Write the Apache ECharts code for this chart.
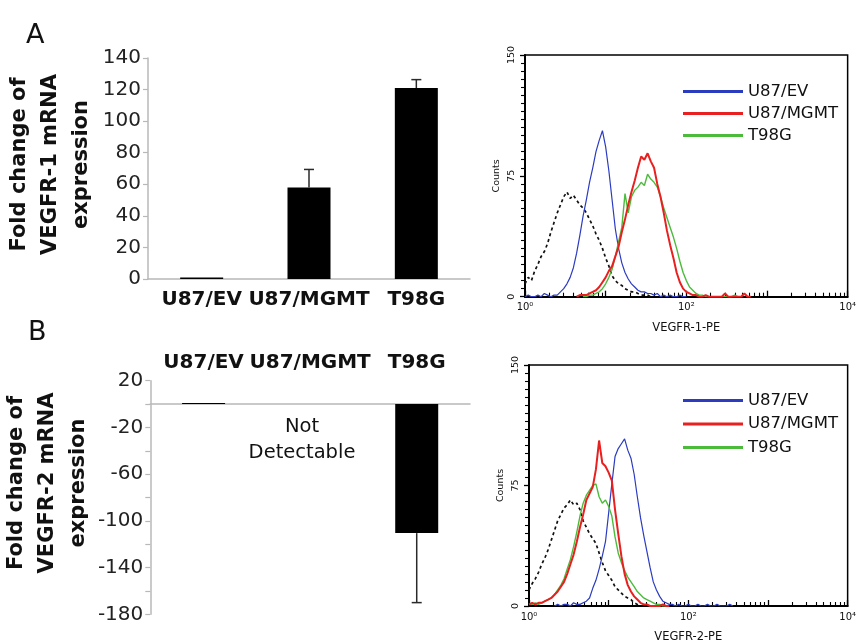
<!DOCTYPE html>
<html><head><meta charset="utf-8">
<script src="https://cdn.jsdelivr.net/npm/echarts@6/dist/echarts.min.js"></script>
<style>html,body{margin:0;padding:0;background:#fff}#c{width:859px;height:644px}</style>
</head><body><div id="c"></div>
<script>
// ---------- bar charts (qPCR fold change) ----------
const categories = ['U87/EV', 'U87/MGMT', 'T98G'];
const vegfr1Fold = [1, 58, 121];
const vegfr1Err  = [0, 11.4, 5.3];
const vegfr2Fold = [1, null, -110.5];
const vegfr2Err  = [0, null, 59.5];
const vegfr1Ticks = [0, 20, 40, 60, 80, 100, 120, 140];
const vegfr2Ticks = [20, -20, -60, -100, -140, -180];
const notDetectable = 'Not\nDetectable';

// ---------- flow cytometry histograms ----------
// channel positions in decades (log10 of fluorescence)
const logChannel = [0,0.04,0.08,0.12,0.16,0.2,0.24,0.28,0.32,0.36,
  0.4,0.44,0.48,0.52,0.56,0.6,0.64,0.68,0.72,0.76,
  0.8,0.84,0.88,0.92,0.96,1,1.04,1.08,1.12,1.16,
  1.2,1.24,1.28,1.32,1.36,1.4,1.44,1.48,1.52,1.56,
  1.6,1.64,1.68,1.72,1.76,1.8,1.84,1.88,1.92,1.96,
  2,2.04,2.08,2.12,2.16,2.2,2.24,2.28,2.32,2.36,
  2.4,2.44,2.48,2.52,2.56,2.6,2.64,2.68,2.72,2.76,2.8];
const legendNames = ['U87/EV', 'U87/MGMT', 'T98G'];
const xTickLabels = {0: '10\u2070', 2: '10\u00b2', 4: '10\u2074'};

// VEGFR-1-PE
const r1Isotype = [8,12,10,16,20,25,28,33,40,46, 52,57,62,65,61,63,60,57,55,52,
  48,44,39,35,30,24,19,13,10,8, 7,5,4,3,3,2,1,1,1,0];
const r1EV = [0,1,0,0,1,0,2,1,0,1, 1,3,5,8,12,18,27,38,50,60,
  71,80,90,97,103,93,78,60,42,30, 21,15,11,8,6,4,3,3,2,2,
  1,2,0,1,0,1,0,0,1,0,0];
const r1MGMT = [null,null,null,null,null,null,null,null,null,null, null,null,null,null,null,null,0,1,1,1,
  2,3,4,6,9,12,16,19,25,31, 40,48,57,65,72,80,87,85,89,84,
  80,70,62,52,41,32,24,15,9,5, 3,2,1,1,0,0,1,0,0,0,
  0,0,2,0,0,0,0,0,2,0,0];
const r1T98G = [null,null,null,null,null,null,null,null,null,null, null,null,null,null,null,null,null,null,0,0,
  1,1,2,3,5,8,12,17,25,34, 43,64,52,62,66,68,71,69,76,73,
  71,68,62,55,49,43,37,30,22,15, 10,6,4,2,1,1,0,0,0,0,
  0,0,0,0,0,1,0];

// VEGFR-2-PE
const r2Isotype = [10,14,17,21,26,30,35,41,47,53, 57,61,63,66,63,64,60,53,49,45,
  42,39,33,27,22,19,16,12,10,8, 6,5,4,2,1,0];
const r2EV = [null,null,null,null,null,null,null,null,0,1, 0,1,1,0,2,1,1,2,3,5,
  11,16,23,31,40,58,76,93,98,101, 104,97,92,82,68,55,44,34,24,15,
  10,6,3,2,1,1,0,1,0,0, 1,0,0,1,0,0,1,0,0,1, 0,0,0,1,0];
const r2MGMT = [1,2,1,2,2,3,4,5,7,9, 12,15,20,26,32,40,49,57,66,70,
  74,85,103,89,87,83,78,60,45,31, 20,13,9,6,4,2,1,1,0,0, 0,0,1,0,0];
const r2T98G = [1,1,2,1,2,3,4,5,7,10, 13,17,23,29,37,46,56,64,69,72,
  75,76,68,64,66,62,56,43,33,27, 22,18,15,12,9,7,5,4,3,2, 1,1,0,0,0];

const FONT = '"DejaVu Sans", "Liberation Sans", Arial, sans-serif';
const GREY = '#b8b8b8';
const COL = {ev: '#2b3cc0', mgmt: '#e82020', t98: '#4cbb3c', iso: '#111'};

function pts(arr) { return arr.map((c, i) => [Math.pow(10, logChannel[i]), c]); }

function errRender(params, api) {
  const i = api.value(0), v = api.value(1), e = api.value(2);
  const end = v >= 0 ? v + e : v - e;
  const p0 = api.coord([i, v]), p1 = api.coord([i, end]);
  const st = {stroke: '#2a2a2a', lineWidth: 1.5};
  return {type: 'group', children: [
    {type: 'line', shape: {x1: p0[0], y1: p0[1], x2: p1[0], y2: p1[1]}, style: st},
    {type: 'line', shape: {x1: p1[0] - 5, y1: p1[1], x2: p1[0] + 5, y2: p1[1]}, style: st}
  ]};
}
function errData(vals, errs) {
  const out = [];
  vals.forEach((v, i) => { if (v != null && errs[i]) out.push([i, v, errs[i]]); });
  return out;
}

function histX(gi, name) {
  return {gridIndex: gi, type: 'log', logBase: 10, min: 1, max: 10000, splitNumber: 4,
    axisLine: {onZero: false, lineStyle: {color: '#000', width: 2}},
    axisTick: {inside: true, length: 6, lineStyle: {color: '#000', width: 1.3}},
    minorTick: {show: true, splitNumber: 9, length: 4, lineStyle: {color: '#000', width: 1.1}},
    axisLabel: {margin: 6, fontSize: 10, color: '#111', fontFamily: FONT,
      formatter: v => { const e = Math.round(Math.log10(v)); return xTickLabels[e] || ''; }},
    splitLine: {show: false}, minorSplitLine: {show: false},
    name: name, nameLocation: 'middle', nameGap: 25,
    nameTextStyle: {fontSize: 11.5, color: '#111', fontFamily: FONT}};
}
function histY(gi) {
  return {gridIndex: gi, type: 'value', min: 0, max: 150, interval: 75,
    axisLine: {show: true, lineStyle: {color: '#000', width: 2}},
    axisTick: {show: true, inside: false, length: 5, lineStyle: {color: '#000', width: 1.3}},
    minorTick: {show: true, splitNumber: 15, length: 4, lineStyle: {color: '#000', width: 1.1}},
    axisLabel: {rotate: 90, margin: 8, fontSize: 9.5, color: '#111', fontFamily: FONT},
    splitLine: {show: false}, minorSplitLine: {show: false},
    name: 'Counts', nameLocation: 'middle', nameRotate: 90, nameGap: 23,
    nameTextStyle: {fontSize: 9.5, color: '#111', fontFamily: FONT}};
}
function histSeries(xi, yi, iso, ev, mgmt, t98) {
  const base = {type: 'line', xAxisIndex: xi, yAxisIndex: yi, symbol: 'none', silent: true, animation: false};
  return [
    Object.assign({}, base, {name: 'Isotype', data: pts(iso), lineStyle: {color: COL.iso, width: 1.7, type: [3, 3]}, itemStyle: {color: COL.iso}}),
    Object.assign({}, base, {name: 'U87/EV', data: pts(ev), lineStyle: {color: COL.ev, width: 1.2}, itemStyle: {color: COL.ev}}),
    Object.assign({}, base, {name: 'T98G', data: pts(t98), lineStyle: {color: COL.t98, width: 1.4}, itemStyle: {color: COL.t98}}),
    Object.assign({}, base, {name: 'U87/MGMT', data: pts(mgmt), lineStyle: {color: COL.mgmt, width: 2}, itemStyle: {color: COL.mgmt}})
  ];
}
function legendAt(top, gap) {
  return {data: legendNames, orient: 'vertical', left: 678, top: top, icon: 'rect', itemWidth: 60, itemHeight: 3,
    itemGap: gap, selectedMode: false,
    textStyle: {fontSize: 16.5, lineHeight: 18, color: '#111', fontFamily: FONT}};
}

const barY = {
  type: 'value',
  axisLine: {show: true, lineStyle: {color: GREY, width: 1.5}},
  axisTick: {show: true, length: 5, lineStyle: {color: GREY, width: 1.2}},
  splitLine: {show: false},
  nameLocation: 'middle', nameRotate: 90,
  nameTextStyle: {fontSize: 21, fontWeight: 'bold', lineHeight: 31, color: '#111', fontFamily: FONT}
};

const option = {
  animation: false,
  backgroundColor: '#fff',
  grid: [
    {left: 148, top: 58, width: 322, height: 221},
    {left: 148, top: 380.7, width: 322, height: 233.6},
    {left: 525, top: 55, width: 327, height: 241.7, show: true, borderColor: '#000', borderWidth: 1.5},
    {left: 529, top: 365, width: 323, height: 241, show: true, borderColor: '#000', borderWidth: 1.5}
  ],
  xAxis: [
    {gridIndex: 0, type: 'category', data: categories,
      axisLine: {lineStyle: {color: GREY, width: 1.5}}, axisTick: {show: false},
      axisLabel: {interval: 0, margin: 11, fontSize: 20, fontWeight: 'bold', color: '#111', fontFamily: FONT}},
    {gridIndex: 1, type: 'category', data: categories, position: 'bottom',
      axisLine: {onZero: true, lineStyle: {color: GREY, width: 1.5}}, axisTick: {show: false}, axisLabel: {show: false}},
    {gridIndex: 1, type: 'category', data: categories, position: 'top',
      axisLine: {show: false, onZero: false}, axisTick: {show: false},
      axisLabel: {interval: 0, margin: 8, fontSize: 20, fontWeight: 'bold', color: '#111', fontFamily: FONT}},
    histX(2, 'VEGFR-1-PE'),
    histX(3, 'VEGFR-2-PE')
  ],
  yAxis: [
    Object.assign({}, barY, {gridIndex: 0, min: 0, max: 140, interval: 20,
      axisLabel: {margin: 7, fontSize: 20, color: '#222', fontFamily: FONT,
        formatter: v => vegfr1Ticks.indexOf(v) >= 0 ? String(v) : ''},
      name: 'Fold change of\nVEGFR-1 mRNA\nexpression', nameGap: 51,
      nameTextStyle: Object.assign({}, barY.nameTextStyle, {padding: [0, 0, 0, 8]})}),
    Object.assign({}, barY, {gridIndex: 1, min: -180, max: 20, interval: 20,
      axisLabel: {margin: 7, fontSize: 20, color: '#222', fontFamily: FONT,
        formatter: v => vegfr2Ticks.indexOf(v) >= 0 ? String(v) : ''},
      name: 'Fold change of\nVEGFR-2 mRNA\nexpression', nameGap: 51,
      nameTextStyle: Object.assign({}, barY.nameTextStyle, {padding: [0, 0, 0, 29]})}),
    histY(2),
    histY(3)
  ],
  legend: [legendAt(77.5, 4), legendAt(386.5, 5.5)],
  series: [
    {type: 'bar', xAxisIndex: 0, yAxisIndex: 0, data: vegfr1Fold, barWidth: 43, itemStyle: {color: '#000'}, silent: true},
    {type: 'custom', xAxisIndex: 0, yAxisIndex: 0, data: errData(vegfr1Fold, vegfr1Err), renderItem: errRender, z: 3, silent: true},
    {type: 'bar', xAxisIndex: 1, yAxisIndex: 1, data: vegfr2Fold, barWidth: 43, itemStyle: {color: '#000'}, silent: true},
    {type: 'custom', xAxisIndex: 1, yAxisIndex: 1, data: errData(vegfr2Fold, vegfr2Err), renderItem: errRender, z: 3, silent: true}
  ].concat(histSeries(3, 2, r1Isotype, r1EV, r1MGMT, r1T98G))
   .concat(histSeries(4, 3, r2Isotype, r2EV, r2MGMT, r2T98G)),
  graphic: [
    {type: 'text', left: 26, top: 22, style: {text: 'A', font: '27px ' + FONT, fill: '#111'}},
    {type: 'text', left: 28, top: 319, style: {text: 'B', font: '27px ' + FONT, fill: '#111'}},
    {type: 'text', x: 302, y: 440, style: {text: notDetectable, font: '19.5px ' + FONT, fill: '#111',
      align: 'center', verticalAlign: 'middle', lineHeight: 26}}
  ]
};

const chart = echarts.init(document.getElementById('c'), null, {renderer: 'canvas'});
chart.setOption(option);
</script>
</body></html>
